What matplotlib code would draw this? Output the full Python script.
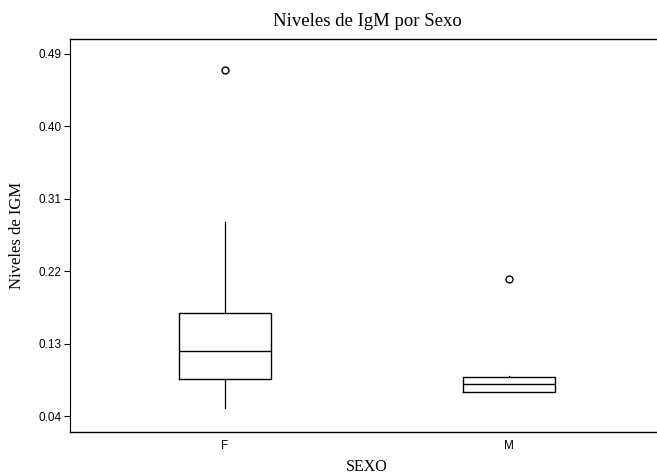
import matplotlib
matplotlib.use("Agg")
import matplotlib.pyplot as plt

categories = ["F", "M"]
q1 = [0.0857, 0.0697]
med = [0.1203, 0.0796]
q3 = [0.1686, 0.0882]
whislo = [0.0499, 0.0697]
whishi = [0.281, 0.0895]
outliers = [[0.470], [0.2106]]
yticks = [0.04, 0.13, 0.22, 0.31, 0.40, 0.49]

stats = []
for i, c in enumerate(categories):
    stats.append(dict(label=c, q1=q1[i], med=med[i], q3=q3[i],
                      whislo=whislo[i], whishi=whishi[i], fliers=outliers[i]))

fig = plt.figure(figsize=(6.57, 4.76), dpi=100)
ax = fig.add_axes([70/657, 1-432/476, (664-70)/657, (432-39)/476])
ax.bxp(stats, positions=[1, 2], widths=0.325, showcaps=False,
       boxprops=dict(color="black", linewidth=1),
       medianprops=dict(color="black", linewidth=1),
       whiskerprops=dict(color="black", linewidth=0.9),
       flierprops=dict(marker="o", markersize=5, markerfacecolor="none",
                       markeredgecolor="black", markeredgewidth=1))
ax.set_xlim(0.454, 2.546)
ax.set_ylim(0.0202, 0.5085)
ax.set_yticks(yticks)
ax.set_yticklabels([f"{v:.2f}" for v in yticks], fontsize=8.5, family="Liberation Sans")
ax.set_xticks([1, 2])
ax.set_xticklabels(categories, fontsize=8.5, family="Liberation Sans")
ax.tick_params(axis="x", length=0, pad=6)
ax.tick_params(axis="y", length=4, width=0.8, pad=2)
for s in ax.spines.values():
    s.set_linewidth(1)
ax.spines["left"].set_linewidth(0.8)
ax.set_title("Niveles de IgM por Sexo", fontsize=13.5, family="Liberation Serif", pad=9)
ax.set_ylabel("Niveles de IGM", fontsize=12, family="Liberation Serif", labelpad=10)
ax.set_xlabel("SEXO", fontsize=11.5, family="Liberation Serif")
ax.xaxis.set_label_coords(0.5, -0.068)
fig.savefig("out.png", dpi=100)
